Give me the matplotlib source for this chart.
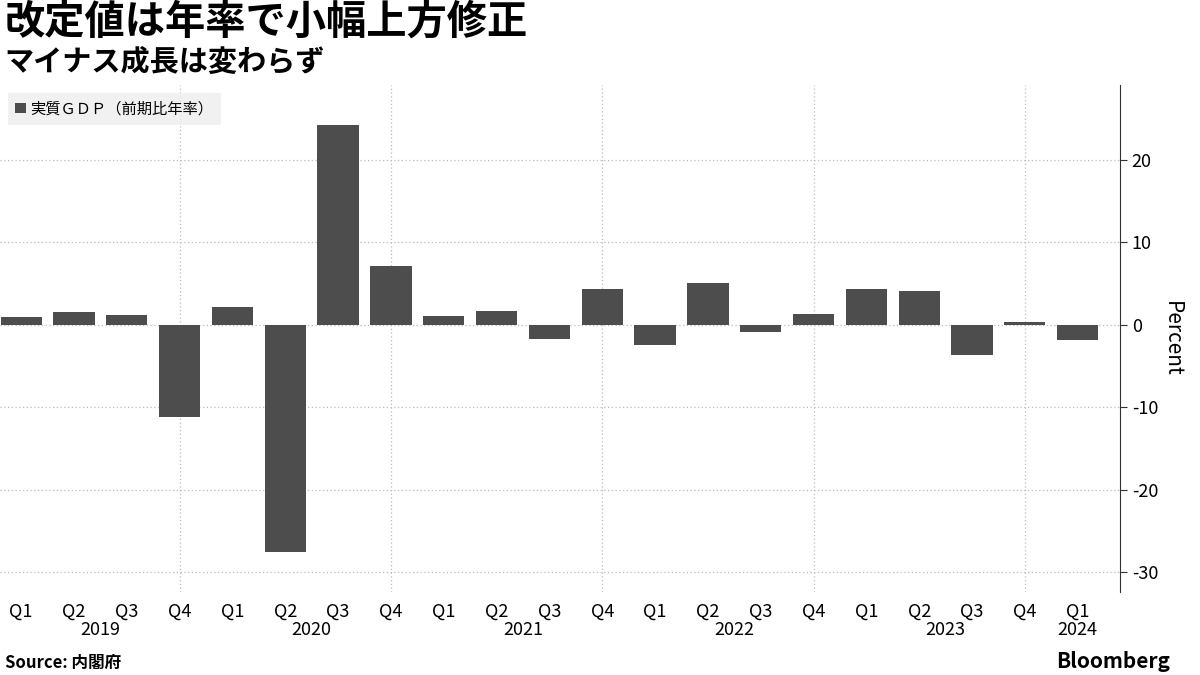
import matplotlib
matplotlib.use("Agg")
import matplotlib.pyplot as plt

plt.rcParams['font.family'] = ['Noto Sans CJK JP', 'DejaVu Sans']

quarters = ["Q1", "Q2", "Q3", "Q4"] * 5 + ["Q1"]
years = ["2019", "2020", "2021", "2022", "2023", "2024"]
values = [1.0, 1.6, 1.2, -11.2, 2.2, -27.6, 24.3, 7.2, 1.1, 1.7, -1.7, 4.4,
          -2.4, 5.1, -0.8, 1.3, 4.4, 4.1, -3.7, 0.4, -1.8]

fig = plt.figure(figsize=(12, 6.75), dpi=100)
ax = fig.add_axes([0.0, 0.123, 0.9333, 0.751])
x = list(range(len(values)))
ax.bar(x, values, width=0.78, color="#4d4d4d", zorder=3, label="実質ＧＤＰ（前期比年率）")
ax.set_xlim(-0.4, 20.8)
ax.set_ylim(-32.4, 29.1)
ax.yaxis.tick_right()
ax.yaxis.set_label_position("right")
ax.set_yticks([-30, -20, -10, 0, 10, 20])
ax.set_yticklabels(["-30", "-20", "-10", "0", "10", "20"], fontsize=13)
ax.set_ylabel("Percent", fontsize=15, rotation=270, labelpad=18)
ax.grid(axis="y", linestyle=(0, (1, 2)), color="#bbbbbb", lw=0.9, zorder=0)
for i in [3, 7, 11, 15, 19]:
    ax.axvline(i, linestyle=(0, (1, 2)), color="#bbbbbb", lw=0.9, zorder=0)
ax.set_xticks(x)
ax.set_xticklabels(quarters, fontsize=13)
ax.tick_params(axis="x", length=0, pad=8)
ax.tick_params(axis="y", length=5, color="#333333")
for s in ["left", "top", "bottom"]:
    ax.spines[s].set_visible(False)
ax.spines["right"].set_color("#333333")
for k, yr in enumerate(years):
    pos = 4 * k + 1.5 if k < 5 else 20
    ax.text(pos, -0.058, yr, transform=ax.get_xaxis_transform(), ha="center",
            va="top", fontsize=13)
leg = ax.legend(loc="upper left", bbox_to_anchor=(0.0, 1.0), fontsize=11,
                frameon=True, fancybox=False, handlelength=0.7, handleheight=0.7,
                handletextpad=0.3, borderpad=0.5)
leg.get_frame().set_facecolor("#eeeeee")
leg.get_frame().set_edgecolor("none")

fig.text(0.004, 0.998, "改定値は年率で小幅上方修正", fontsize=29, fontweight="bold", va="top")
fig.text(0.004, 0.93, "マイナス成長は変わらず", fontsize=21, fontweight="bold", va="top")
fig.text(0.004, 0.005, "Source: 内閣府", fontsize=12, fontweight="bold", va="bottom")
fig.text(0.975, 0.005, "Bloomberg", fontsize=15, fontweight="bold", va="bottom", ha="right")
fig.savefig("out.png", dpi=100)
